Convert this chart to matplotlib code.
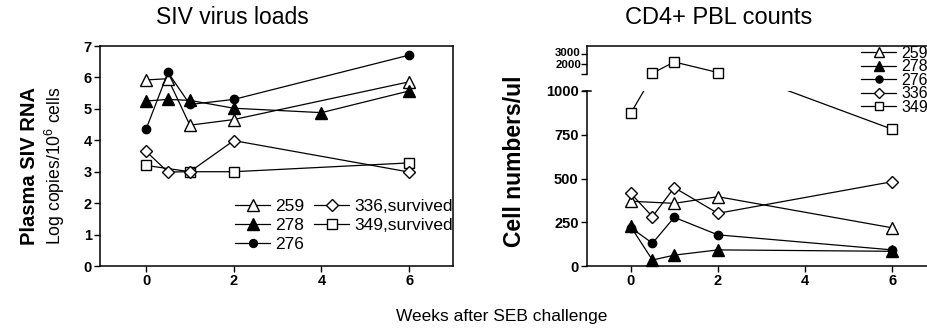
import numpy as np
import matplotlib
matplotlib.use("Agg")
import matplotlib.pyplot as plt
from matplotlib.lines import Line2D
from matplotlib.transforms import blended_transform_factory, offset_copy

plt.rcParams['font.family'] = ['Liberation Sans', 'DejaVu Sans']
plt.rcParams['mathtext.fontset'] = 'custom'
plt.rcParams['mathtext.rm'] = 'Liberation Sans'
plt.rcParams['mathtext.it'] = 'Liberation Sans:italic'

# ---------------- data ----------------
animals = ['259', '278', '276', '336', '349']
left_labels = ['259', '278', '276', '336,survived', '349,survived']

# SIV virus loads (log copies / 10^6 cells)
siv_weeks = {
    '259': [0, 0.5, 1, 2, 6],
    '278': [0, 0.5, 1, 2, 4, 6],
    '276': [0, 0.5, 1, 2, 6],
    '336': [0, 0.5, 1, 2, 6],
    '349': [0, 1, 2, 6],
}
siv_vals = {
    '259': [5.92, 5.96, 4.48, 4.66, 5.86],
    '278': [5.25, 5.30, 5.27, 5.02, 4.88, 5.57],
    '276': [4.35, 6.16, 5.14, 5.30, 6.71],
    '336': [3.65, 2.99, 3.00, 3.99, 2.99],
    '349': [3.20, 3.00, 3.00, 3.28],
}

# CD4+ PBL counts (cells / ul)
cd4_weeks = {
    '259': [0, 1, 2, 6],
    '278': [0, 0.5, 1, 2, 6],
    '276': [0, 0.5, 1, 2, 6],
    '336': [0, 0.5, 1, 2, 6],
    '349': [0, 0.5, 1, 2, 6],
}
cd4_vals = {
    '259': [370, 358, 396, 218],
    '278': [226, 34, 62, 92, 84],
    '276': [220, 130, 278, 178, 92],
    '336': [416, 282, 448, 301, 482],
    '349': [872, 1085, 2200, 1150, 781],
}

left_yticks = [0, 1, 2, 3, 4, 5, 6, 7]
xticks = [0, 2, 4, 6]
low_yticks = [0, 250, 500, 750, 1000]
up_yticks = [1000, 2000, 3000]
up_label_vals = [2000, 3000]
up_label_texts = ['2000', '3000']

# ---------------- styles ----------------
styles = {
    '259': dict(marker='^', mfc='white', ms=8.5),
    '278': dict(marker='^', mfc='black', ms=8.5),
    '276': dict(marker='o', mfc='black', ms=6),
    '336': dict(marker='D', mfc='white', ms=6.5),
    '349': dict(marker='s', mfc='white', ms=7),
}
order_z = {'259': 3, '278': 3, '276': 3, '336': 4, '349': 2}
LW = 0.9
TICKFS = 10.5

W, H = 928, 331
fig = plt.figure(figsize=(W / 100, H / 100), dpi=100)

def fx(px):
    return px / W

def fy(py):
    return 1 - py / H

def style_ax(ax, fs=TICKFS):
    for s in ax.spines.values():
        s.set_linewidth(1.1)
    ax.tick_params(direction='out', length=4, width=1.0, labelsize=fs, pad=2)
    for lab in ax.get_xticklabels() + ax.get_yticklabels():
        lab.set_fontweight('bold')

# ---------------- left panel ----------------
axL = fig.add_axes([fx(100), fy(266), fx(353), 220 / H])
for a in animals:
    st = styles[a]
    axL.plot(siv_weeks[a], siv_vals[a], color='black', lw=LW, marker=st['marker'],
             mfc=st['mfc'], mec='black', ms=st['ms'], mew=1.0, zorder=order_z[a])
axL.set_xlim(-1.05, 7)
axL.set_ylim(0, 7)
axL.set_xticks(xticks)
axL.set_yticks(left_yticks)
style_ax(axL)

handles = []
for a in animals:
    st = styles[a]
    handles.append(Line2D([], [], color='black', lw=LW, marker=st['marker'], mfc=st['mfc'],
                          mec='black', ms=st['ms'] * 0.95, mew=1.0))
legL = axL.legend(handles, left_labels, ncol=2, loc='lower left',
                  bbox_to_anchor=(0.383, 0.062), frameon=False, fontsize=12.5,
                  handlelength=2.0, handletextpad=0.32, columnspacing=0.55,
                  labelspacing=0.22, borderpad=0, borderaxespad=0)

# ---------------- right panel (broken axis) ----------------
left_px, right_px = 587, 936
axB = fig.add_axes([fx(left_px), fy(266), fx(right_px - left_px), 175 / H])
axT = fig.add_axes([fx(left_px), fy(74), fx(right_px - left_px), 28 / H])

for a in animals:
    st = styles[a]
    wk = np.array(cd4_weeks[a], float)
    v = np.array(cd4_vals[a], float)
    # lower part: lines clipped at 1000, markers for values within range
    axB.plot(wk, v, color='black', lw=LW, zorder=order_z[a])
    m = v <= 1000
    axB.plot(wk[m], v[m], ls='none', marker=st['marker'], mfc=st['mfc'], mec='black',
             ms=st['ms'], mew=1.0, clip_on=False, zorder=order_z[a] + 0.5)
    # upper part: only points above the break
    mu = v > 1000
    if mu.any():
        axT.plot(wk[mu], v[mu], color='black', lw=LW, marker=st['marker'], mfc=st['mfc'],
                 mec='black', ms=st['ms'], mew=1.0, clip_on=False, zorder=order_z[a])

for ax in (axB, axT):
    ax.set_xlim(-1.0, 7.0)
    ax.spines['right'].set_visible(False)

axB.set_ylim(0, 1000)
axB.set_xticks(xticks)
axB.set_yticks(low_yticks)
axB.spines['top'].set_visible(False)
style_ax(axB)

axT.set_ylim(1000, 3800)
axT.set_yticks(up_yticks)
axT.set_yticklabels([])
axT.set_xticks([])
axT.spines['bottom'].set_visible(False)
style_ax(axT)
axT.patch.set_alpha(0)

# upper tick labels, squeezed like the original (nudged apart slightly)
blend = blended_transform_factory(axT.transAxes, axT.transData)
for val, txt, dy in zip(up_label_vals, up_label_texts, [-1.5, 1.5]):
    axT.text(0, val, txt, transform=offset_copy(blend, fig=fig, x=-6, y=dy, units='dots'),
             ha='right', va='center', fontsize=8.2, fontweight='bold', clip_on=False)

# small cap at the break
axB.plot([-0.012, 0.012], [1, 1], transform=axB.transAxes, color='black', lw=1.1,
         clip_on=False)

# right legend
handlesR = []
for a in animals:
    st = styles[a]
    handlesR.append(Line2D([], [], color='black', lw=LW, marker=st['marker'], mfc=st['mfc'],
                           mec='black', ms=st['ms'] * 0.85, mew=1.0))
fig.legend(handlesR, animals, loc='upper left', bbox_to_anchor=(fx(861), fy(46)),
           frameon=False, fontsize=11.5, handlelength=2.2, handletextpad=0.35,
           labelspacing=-0.1, borderpad=0, borderaxespad=0)

# ---------------- texts ----------------
fig.text(fx(232), fy(18), 'SIV virus loads', ha='center', va='center', fontsize=16.5)
fig.text(fx(719), fy(18), 'CD4+ PBL counts', ha='center', va='center', fontsize=17)
fig.text(fx(502), fy(316), 'Weeks after SEB challenge', ha='center', va='center', fontsize=12.5)
fig.text(fx(30), fy(166), 'Plasma SIV RNA', rotation=90, ha='center', va='center',
         fontsize=14.5, fontweight='bold')
fig.text(fx(55), fy(166), r'Log copies/10$^6$ cells', rotation=90, ha='center', va='center',
         fontsize=12.7)
fig.text(fx(515), fy(161), 'Cell numbers/ul', rotation=90, ha='center', va='center',
         fontsize=16.5, fontweight='bold')

fig.savefig('out.png', dpi=100)
